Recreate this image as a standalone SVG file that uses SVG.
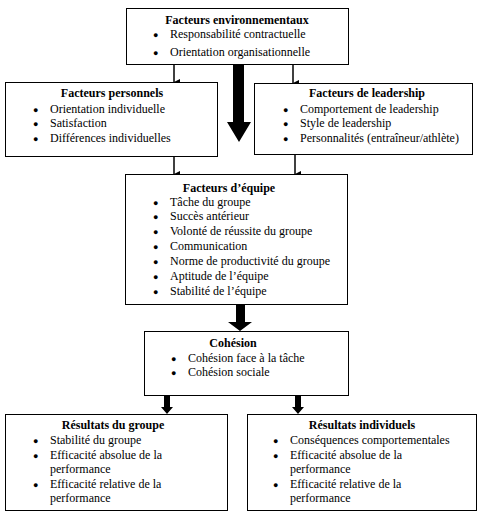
<svg xmlns="http://www.w3.org/2000/svg" width="480" height="526" viewBox="0 0 480 526">
<style>
.box{fill:#fff;stroke:#000;stroke-width:1}
text{font-family:"Liberation Serif","Times New Roman",serif;font-size:12px;fill:#000}
.t{font-weight:bold;text-anchor:middle}
.b{font-size:9px}
.c{fill:#000;stroke:none}
.thin{stroke:#000;stroke-width:1.5;fill:none}
</style>
<defs>
<marker id="ah" markerWidth="6" markerHeight="6" refX="3" refY="6" orient="auto" markerUnits="userSpaceOnUse" viewBox="0 0 6 6">
<path d="M0,0 L6,0 L3,6 Z" fill="#000"/>
</marker>
</defs>
<g id="connectors">
<line class="thin" x1="174" y1="64" x2="174" y2="82" marker-end="url(#ah)"/>
<line class="thin" x1="293" y1="64" x2="293" y2="83" marker-end="url(#ah)"/>
<line class="thin" x1="174" y1="156" x2="174" y2="174" marker-end="url(#ah)"/>
<line class="thin" x1="295" y1="154" x2="295" y2="174" marker-end="url(#ah)"/>
<path class="c" d="M233,64 L244,64 L244,122 L251,122 L239,142 L227,122 L233,122 Z"/>
<path class="c" d="M236,304 L245,304 L245,322 L252,322 L240,331 L228,322 L236,322 Z"/>
<path class="c" d="M164,396 L170,396 L170,407 L173,407 L167,414 L161,407 L164,407 Z"/>
<path class="c" d="M295,396 L301,396 L301,407 L304,407 L298,414 L292,407 L295,407 Z"/>
</g>
<g id="env">
<rect class="box" x="126.5" y="8.5" width="222" height="56"/>
<text class="t" x="237" y="24">Facteurs environnementaux</text>
<text class="b" x="153" y="38">●</text><text x="170" y="38">Responsabilité contractuelle</text>
<text class="b" x="153" y="56">●</text><text x="170" y="56">Orientation organisationnelle</text>
</g>
<g id="perso">
<rect class="box" x="5.5" y="82.5" width="212" height="74"/>
<text class="t" x="112" y="97">Facteurs personnels</text>
<text class="b" x="33" y="113">●</text><text x="50" y="113">Orientation individuelle</text>
<text class="b" x="33" y="127">●</text><text x="50" y="127">Satisfaction</text>
<text class="b" x="33" y="142">●</text><text x="50" y="142">Différences individuelles</text>
</g>
<g id="leader">
<rect class="box" x="254.5" y="83.5" width="218" height="71"/>
<text class="t" x="367" y="97">Facteurs de leadership</text>
<text class="b" x="283" y="113">●</text><text x="300" y="113">Comportement de leadership</text>
<text class="b" x="283" y="127">●</text><text x="300" y="127">Style de leadership</text>
<text class="b" x="283" y="142">●</text><text x="300" y="142">Personnalités (entraîneur/athlète)</text>
</g>
<g id="equipe">
<rect class="box" x="125.5" y="174.5" width="222" height="130"/>
<text class="t" x="229" y="192">Facteurs d’équipe</text>
<text class="b" x="153" y="206">●</text><text x="170" y="206">Tâche du groupe</text>
<text class="b" x="153" y="220">●</text><text x="170" y="220">Succès antérieur</text>
<text class="b" x="153" y="235">●</text><text x="170" y="235">Volonté de réussite du groupe</text>
<text class="b" x="153" y="250">●</text><text x="170" y="250">Communication</text>
<text class="b" x="153" y="265">●</text><text x="170" y="265">Norme de productivité du groupe</text>
<text class="b" x="153" y="280">●</text><text x="170" y="280">Aptitude de l’équipe</text>
<text class="b" x="153" y="295">●</text><text x="170" y="295">Stabilité de l’équipe</text>
</g>
<g id="cohesion">
<rect class="box" x="144.5" y="331.5" width="204" height="64"/>
<text class="t" x="233" y="347">Cohésion</text>
<text class="b" x="171" y="362">●</text><text x="188" y="362">Cohésion face à la tâche</text>
<text class="b" x="171" y="376">●</text><text x="188" y="376">Cohésion sociale</text>
</g>
<g id="resgroupe">
<rect class="box" x="5.5" y="414.5" width="222" height="96"/>
<text class="t" x="113" y="429">Résultats du groupe</text>
<text class="b" x="33" y="444">●</text><text x="50" y="444">Stabilité du groupe</text>
<text class="b" x="33" y="459">●</text><text x="50" y="459">Efficacité absolue de la</text>
<text x="50" y="473">performance</text>
<text class="b" x="33" y="488">●</text><text x="50" y="488">Efficacité relative de la</text>
<text x="50" y="502">performance</text>
</g>
<g id="resindiv">
<rect class="box" x="247.5" y="414.5" width="229" height="96"/>
<text class="t" x="362" y="429">Résultats individuels</text>
<text class="b" x="273" y="444">●</text><text x="290" y="444">Conséquences comportementales</text>
<text class="b" x="273" y="459">●</text><text x="290" y="459">Efficacité absolue de la</text>
<text x="290" y="473">performance</text>
<text class="b" x="273" y="488">●</text><text x="290" y="488">Efficacité relative de la</text>
<text x="290" y="502">performance</text>
</g>
</svg>
